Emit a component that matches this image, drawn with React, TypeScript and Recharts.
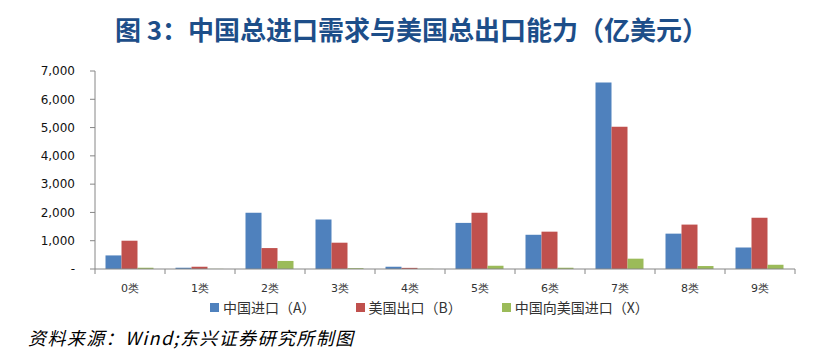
import React from 'react';
import { BarChart, Bar, XAxis, YAxis, Legend } from 'recharts';

const CATEGORIES = ['0类', '1类', '2类', '3类', '4类', '5类', '6类', '7类', '8类', '9类'];
const CHINA_IMPORT = [480, 45, 1990, 1750, 80, 1630, 1210, 6590, 1250, 760];
const US_EXPORT = [1000, 80, 740, 930, 40, 1990, 1320, 5030, 1570, 1810];
const CHINA_FROM_US = [45, 5, 285, 30, 5, 115, 45, 365, 105, 150];
const Y_TICKS = [0, 1000, 2000, 3000, 4000, 5000, 6000, 7000];

const SERIES = [
  { key: 'a', name: '中国进口（A）', color: '#4F81BD' },
  { key: 'b', name: '美国出口（B）', color: '#C0504D' },
  { key: 'x', name: '中国向美国进口（X）', color: '#9BBB59' },
];

const data = CATEGORIES.map((c, i) => ({
  cat: c,
  a: CHINA_IMPORT[i],
  b: US_EXPORT[i],
  x: CHINA_FROM_US[i],
}));

const AXIS_COLOR = '#868686';

// x ticks sit on the category boundaries, labels in the middle
const CategoryTick = (props: any) => {
  const { x, y, payload, index } = props;
  const half = payload.offset || 35;
  return (
    <g>
      <line x1={x - half} y1={y - 8} x2={x - half} y2={y - 3} stroke={AXIS_COLOR} />
      {index === CATEGORIES.length - 1 && (
        <line x1={x + half} y1={y - 8} x2={x + half} y2={y - 3} stroke={AXIS_COLOR} />
      )}
      <text x={x} y={y + 15} textAnchor="middle" fontSize={11} fill="#333" fontFamily="DejaVu Sans">
        {payload.value}
      </text>
    </g>
  );
};

const renderLegend = () => (
  <div style={{ display: 'flex', gap: 40, paddingLeft: 210, fontFamily: '"Noto Sans CJK SC"', fontSize: 14, color: '#333', lineHeight: '20px' }}>
    {SERIES.map((s) => (
      <div key={s.key} style={{ display: 'flex', alignItems: 'center' }}>
        <span style={{ display: 'inline-block', width: 9, height: 9, background: s.color, marginRight: 4 }} />
        <span>{s.name}</span>
      </div>
    ))}
  </div>
);

export default function App() {
  return (
    <div style={{ position: 'absolute', left: 0, top: 0, width: 823, height: 354, background: '#fff' }}>
      <div
        style={{
          position: 'absolute', left: 0, top: 11, width: 823, textAlign: 'center',
          fontFamily: '"Noto Sans CJK SC"', fontWeight: 700, fontSize: 26, color: '#1D4E89', lineHeight: '36px',
        }}
      >
        图 3：中国总进口需求与美国总出口能力（亿美元）
      </div>
      <BarChart
        width={823}
        height={354}
        data={data}
        margin={{ top: 71, right: 28, left: 0, bottom: 37 }}
        barCategoryGap="15%"
        barGap={0}
      >
        <XAxis
          dataKey="cat"
          stroke={AXIS_COLOR}
          tickLine={false}
          tick={<CategoryTick />}
          height={28}
          interval={0}
        />
        <YAxis
          domain={[0, 7000]}
          ticks={Y_TICKS}
          width={95}
          stroke={AXIS_COLOR}
          tickSize={5}
          tickMargin={15}
          tick={{ fontSize: 12, fill: '#111', fontFamily: 'DejaVu Sans' }}
          tickFormatter={(v: number) => (v === 0 ? '-' : v.toLocaleString('en-US'))}
        />
        <Legend verticalAlign="bottom" height={20} content={renderLegend} />
        {SERIES.map((s) => (
          <Bar key={s.key} dataKey={s.key} name={s.name} fill={s.color} isAnimationActive={false} />
        ))}
      </BarChart>
      <div
        style={{
          position: 'absolute', left: 28, top: 325, fontFamily: '"Noto Sans CJK SC"', fontStyle: 'italic',
          fontSize: 18, letterSpacing: 1.4, color: '#000', lineHeight: '24px',
        }}
      >
        资料来源：Wind;东兴证券研究所制图
      </div>
    </div>
  );
}
